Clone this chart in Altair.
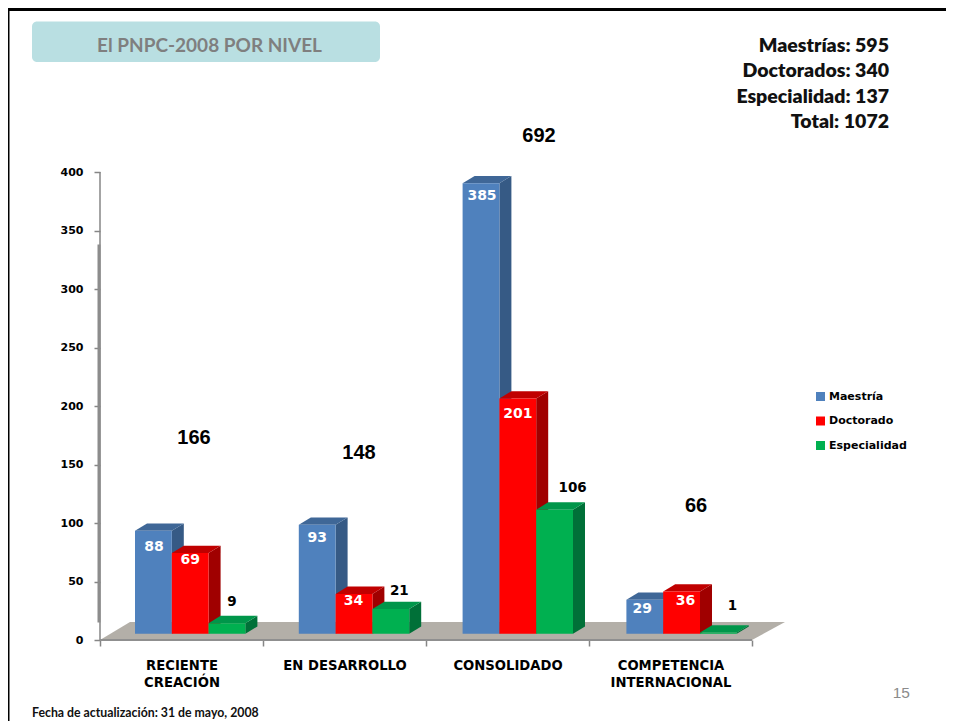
import altair as alt
import pandas as pd

# ---------- chart values ----------
categories = ["RECIENTE CREACIÓN", "EN DESARROLLO", "CONSOLIDADO", "COMPETENCIA INTERNACIONAL"]
series = ["Maestría", "Doctorado", "Especialidad"]
maestria = [88, 93, 385, 29]
doctorado = [69, 34, 201, 36]
especialidad = [9, 21, 106, 1]
totals = [166, 148, 692, 66]
summary_lines = ["Maestrías: 595", "Doctorados: 340", "Especialidad: 137", "Total: 1072"]
y_ticks = [0, 50, 100, 150, 200, 250, 300, 350, 400]
title_text = "El PNPC-2008 POR NIVEL"
footnote = "Fecha de actualización: 31 de mayo, 2008"
page_number = "15"

# ---------- layout (page px mapped on to the data scales) ----------
PX_PER_UNIT = 1.17
PX_PER_CAT = 163.0
AXIS_X, AXIS_Y = 100.0, 640.0
W, H = 938, 713
x_dom = [(8 - AXIS_X) / PX_PER_CAT, (946 - AXIS_X) / PX_PER_CAT]
y_dom = [(AXIS_Y - 721) / PX_PER_UNIT, (AXIS_Y - 8) / PX_PER_UNIT]
xs = alt.Scale(domain=x_dom, range=[0, W], nice=False, zero=False)
ys = alt.Scale(domain=y_dom, range=[H, 0], nice=False, zero=False)

BASE = 5.4            # front base of bars above the axis zero
DX, DY = 12 / PX_PER_CAT, 7.3 / PX_PER_UNIT
START, BW = 35 / PX_PER_CAT, 36.8 / PX_PER_CAT
GROUP_STEP = 163.8 / PX_PER_CAT
front_col = ["#4f81bd", "#ff0000", "#00b050"]
top_col = ["#3f6797", "#c00000", "#00964a"]
side_col = ["#365a85", "#a00000", "#007038"]
# per-bar label nudges, px: (right, down from front top)
label_nudge = [
    [(0.5, 16), (0, 13), (1, 13), (-2.5, 9)],
    [(0, 7), (-0.5, 7), (0, 15), (4, 9)],
    [(5, -21), (8.5, -18), (18, -22), (14, -27)],
]
total_height = [173, 160, 431, 114.5]   # vertical place of the totals, axis units

values = [maestria, doctorado, especialidad]
fronts, sides, tops, labels = [], [], [], []
for s, name in enumerate(series):
    for c, cat in enumerate(categories):
        v = values[s][c]
        x0 = c * GROUP_STEP + START + s * BW
        x1 = x0 + BW
        t = BASE + v
        bid = f"{s}-{c}"
        fronts.append(dict(s=s, serie=name, x=x0, x2=x1, y=t, y2=BASE))
        sides += [dict(s=s, bid=bid, x=x1, y=t, y2=BASE),
                  dict(s=s, bid=bid, x=x1 + DX, y=t + DY, y2=BASE + DY)]
        tops += [dict(s=s, bid=bid, y=t, x=x0, x2=x1),
                 dict(s=s, bid=bid, y=t + DY, x=x0 + DX, x2=x1 + DX)]
        nx, ny = label_nudge[s][c]
        labels.append(dict(s=s, v=str(v), x=(x0 + x1) / 2 + nx / PX_PER_CAT,
                           y=t - ny / PX_PER_UNIT))
fronts, sides, tops, labels = map(pd.DataFrame, (fronts, sides, tops, labels))

X = lambda f="x": alt.X(f"{f}:Q", scale=xs, axis=None)
Y = lambda f="y": alt.Y(f"{f}:Q", scale=ys, axis=None)


def px(x):
    return x - 8


def py(y):
    return y - 8


def static_text(txt, x, y, **kw):
    return alt.Chart(pd.DataFrame({"t": [txt]})).mark_text(baseline="middle", **kw).encode(
        x=alt.value(px(x)), y=alt.value(py(y)), text="t:N")


layers = []

# frame
layers.append(alt.Chart(pd.DataFrame({"a": [0]})).mark_rule(color="#000000", strokeWidth=3).encode(
    x=alt.value(0), x2=alt.value(W), y=alt.value(1.5)))
layers.append(alt.Chart(pd.DataFrame({"a": [0]})).mark_rule(color="#000000", strokeWidth=2).encode(
    x=alt.value(0.5), y=alt.value(0), y2=alt.value(H)))

# title box
layers.append(alt.Chart(pd.DataFrame({"a": [0]})).mark_rect(color="#b9dfe2", cornerRadius=5).encode(
    x=alt.value(px(32)), x2=alt.value(px(380)), y=alt.value(py(21.5)), y2=alt.value(py(62))))
layers.append(static_text(title_text, 209.5, 46, font="Lato", fontWeight="bold",
                          fontSize=19, color="#7f7f7f", align="center"))

# summary text
for line, yy in zip(summary_lines, [45.5, 71, 96.5, 121.5]):
    layers.append(static_text(line, 889, yy, font="Lato", fontWeight=800, fontSize=19.5,
                              color="#111111", align="right"))

# floor of the 3-D plot
floor = pd.DataFrame({"y": [0.0, 15.4], "x": [0.0, 30 / PX_PER_CAT], "x2": [4.0, 685 / PX_PER_CAT]})
layers.append(alt.Chart(floor).mark_area(orient="horizontal", color="#b3afa8").encode(
    x=X(), x2="x2:Q", y=Y()))

# y axis: wall edge
wall = pd.DataFrame({"x": [0.0], "y": [0.0], "y2": [400.0]})
layers.append(alt.Chart(wall).mark_rule(color="#868686", strokeWidth=1.5).encode(
    x=X(),
    y=alt.Y("y:Q", scale=ys, title=None, axis=alt.Axis(
        orient="left", values=y_ticks, offset=-(AXIS_X - 8), domain=False, grid=False, tickSize=6,
        tickColor="#868686", tickWidth=1.5, labelPadding=11, labelFont="DejaVu Sans",
        labelFontWeight="bold", labelFontSize=11, labelColor="#000000")),
    y2="y2:Q"))
wall2 = pd.DataFrame({"x": [-1 / PX_PER_CAT], "y": [15.0], "y2": [338.0]})
layers.append(alt.Chart(wall2).mark_rule(color="#8c8c8c", strokeWidth=3).encode(
    x=X(), y=Y(), y2="y2:Q"))

# x axis: ticks at category borders, labels at category centres
label_expr = ("datum.value == 0.5 ? ['RECIENTE', 'CREACIÓN'] : datum.value == 1.5 ? 'EN DESARROLLO' : "
              "datum.value == 2.5 ? 'CONSOLIDADO' : datum.value == 3.5 ? ['COMPETENCIA', 'INTERNACIONAL'] : ''")
base_line = pd.DataFrame({"x": [0.0], "x2": [4.0], "y": [0.0]})
layers.append(alt.Chart(base_line).mark_rule(color="#8f8f8f", strokeWidth=2).encode(
    x=alt.X("x:Q", scale=xs, title=None, axis=alt.Axis(
        orient="bottom", values=[0, 0.5, 1, 1.5, 2, 2.5, 3, 3.5, 4], offset=-(721 - AXIS_Y),
        domain=False, grid=False, tickSize=6, tickColor="#868686", tickWidth=1.5,
        tickOpacity={"condition": {"test": "datum.value % 1 != 0", "value": 0}, "value": 1},
        labelExpr=label_expr, labelPadding=13, labelFont="DejaVu Sans", labelFontWeight="bold",
        labelFontSize=13.2, labelColor="#000000", labelLineHeight=17, labelBaseline="top",
        labelOverlap=False, labelFlush=False, labelBound=False)),
    x2="x2:Q", y=Y()))

# bars, back to front
color = alt.Color("serie:N", scale=alt.Scale(domain=series, range=front_col), legend=alt.Legend(
    title=None, orient="none", legendX=807, legendY=383, symbolType="square", symbolSize=81,
    symbolStrokeWidth=0, rowPadding=12.5, labelFont="DejaVu Sans", labelFontWeight="bold",
    labelFontSize=11, labelColor="#000000", labelOffset=3))
for s in range(3):
    layers.append(alt.Chart(sides[sides.s == s]).mark_area(color=side_col[s]).encode(
        x=X(), y=Y(), y2="y2:Q", detail="bid:N"))
    layers.append(alt.Chart(tops[tops.s == s]).mark_area(orient="horizontal", color=top_col[s]).encode(
        x=X(), x2="x2:Q", y=Y(), detail="bid:N"))
    layers.append(alt.Chart(fronts[fronts.s == s]).mark_rect().encode(
        x=X(), x2="x2:Q", y=Y(), y2="y2:Q", color=color))

# value labels
layers.append(alt.Chart(labels[labels.s < 2]).mark_text(
    font="DejaVu Sans", fontWeight="bold", fontSize=14, color="#ffffff", baseline="middle").encode(
    x=X(), y=Y(), text="v:N"))
layers.append(alt.Chart(labels[labels.s == 2]).mark_text(
    font="DejaVu Sans", fontWeight="bold", fontSize=13.5, color="#000000", baseline="middle").encode(
    x=X(), y=Y(), text="v:N"))

# totals above the groups
tot_df = pd.DataFrame({"x": [(194 - AXIS_X) / PX_PER_CAT, (359 - AXIS_X) / PX_PER_CAT,
                             (539 - AXIS_X) / PX_PER_CAT, (696 - AXIS_X) / PX_PER_CAT],
                       "y": total_height, "v": [str(t) for t in totals]})
layers.append(alt.Chart(tot_df).mark_text(font="Liberation Sans", fontWeight="bold", fontSize=20,
                                          color="#000000", baseline="middle").encode(
    x=X(), y=Y(), text="v:N"))

# footnote and page number
layers.append(static_text(footnote, 32, 712.5, font="Lato", fontWeight="bold", fontSize=12.3,
                          color="#111111", align="left"))
layers.append(static_text(page_number, 910, 693, font="Liberation Sans", fontSize=15.5,
                          color="#8b8b8b", align="right"))

chart = alt.layer(*layers).resolve_axis(x="independent", y="independent").properties(
    width=W, height=H, padding=0, autosize=alt.AutoSizeParams(type="none"),
    background="#ffffff").configure_view(stroke=None)

chart.save("out.html", embed_options={"renderer": "svg", "actions": False})
